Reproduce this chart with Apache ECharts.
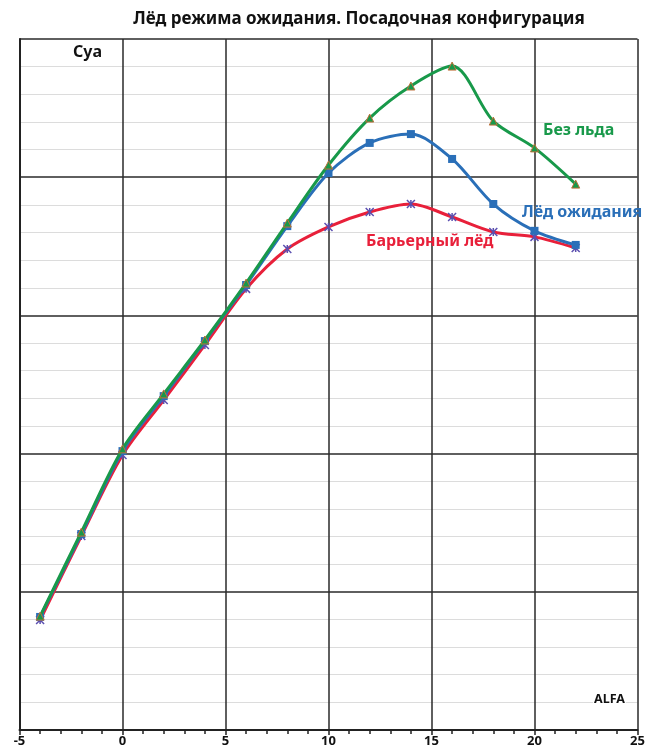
<!DOCTYPE html>
<html><head><meta charset="utf-8">
<script src="https://cdn.jsdelivr.net/npm/echarts@6/dist/echarts.min.js"></script>
<style>html,body{margin:0;padding:0;background:#fff}#c{width:653px;height:753px}</style>
</head><body><div id="c"></div>
<script>
const alpha = [-4,-2,0,2,4,6,8,10,12,14,16,18,20,22];
const noIce = [0.412,0.716,1.017,1.216,1.411,1.617,1.834,2.044,2.214,2.330,2.402,2.203,2.106,1.975];
const holdIce = [0.409,0.709,1.009,1.208,1.407,1.610,1.823,2.015,2.124,2.156,2.066,1.903,1.806,1.755];
const barrierIce = [0.398,0.702,0.995,1.194,1.393,1.596,1.740,1.820,1.874,1.903,1.856,1.802,1.784,1.744];
const xTicks = [-5,0,5,10,15,20,25];
const names = ['Без льда','Лёд ожидания','Барьерный лёд'];
const title = 'Лёд режима ожидания. Посадочная конфигурация';

const pair = (ys) => alpha.map((a,i)=>[a, ys[i]]);
const FONT = '"Noto Sans", sans-serif';
const chart = echarts.init(document.getElementById('c'));
chart.setOption({
  animation: false,
  backgroundColor: '#fff',
  title: {text: title, left: 354, top: 6, textAlign: 'center',
    textStyle: {fontFamily: FONT, fontWeight: 'bold', fontSize: 17, color: '#111'}},
  grid: {left: 19.5, right: 15.5, top: 39, bottom: 23},
  xAxis: {type: 'value', min: -5, max: 25, interval: 5,
    axisLine: {show: true, onZero: false, lineStyle: {color: '#222', width: 2}},
    axisTick: {show: true, length: 5, lineStyle: {color: '#222', width: 1.5}},
    minorTick: {show: true, splitNumber: 5, length: 4, lineStyle: {color: '#222', width: 1.5}},
    axisLabel: {fontFamily: FONT, fontWeight: 'bold', fontSize: 13, color: '#111', margin: 5,
      formatter: v => xTicks.includes(v) ? String(v) : ''},
    splitLine: {show: true, lineStyle: {color: '#2a2a2a', width: 1.5}}
  },
  yAxis: {type: 'value', min: 0, max: 2.5, interval: 0.5,
    axisLine: {show: true, onZero: false, lineStyle: {color: '#222', width: 2}},
    axisTick: {show: false},
    axisLabel: {show: false},
    splitLine: {show: true, lineStyle: {color: '#2a2a2a', width: 1.5}},
    minorSplitLine: {show: true, lineStyle: {color: '#dcdcdc', width: 1}},
    minorTick: {show: false, splitNumber: 5}
  },
  series: [
    {name: names[2], type: 'line', data: pair(barrierIce), smooth: 0.3, z: 3,
      lineStyle: {color: '#e8203a', width: 3},
      symbol: 'path://M0,0L10,10M10,0L0,10M5,0L5,10', symbolSize: 8,
      itemStyle: {color: 'none', borderColor: '#5b4fb0', borderWidth: 1.5}},
    {name: names[1], type: 'line', data: pair(holdIce), smooth: 0.3, z: 4,
      lineStyle: {color: '#2a6fb8', width: 3},
      symbol: 'rect', symbolSize: 8,
      itemStyle: {color: '#2a6fb8', borderWidth: 0}},
    {name: names[0], type: 'line', data: pair(noIce), smooth: 0.3, z: 5,
      lineStyle: {color: '#18994a', width: 3},
      symbol: 'triangle', symbolSize: 8,
      itemStyle: {color: '#18994a', borderColor: '#c0703a', borderWidth: 1}}
  ],
  graphic: [
    {type: 'text', left: 73, top: 44, z: 10, style: {text: 'Cya', font: 'bold 16px "Noto Sans", sans-serif', fill: '#111'}},
    {type: 'text', left: 593, top: 693, z: 10, style: {text: 'ALFA', font: 'bold 12.5px "Noto Sans", sans-serif', fill: '#111', backgroundColor: '#fff', padding: [0, 1]}},
    {type: 'text', left: 543, top: 122, z: 10, style: {text: names[0], font: 'bold 16px "Noto Sans", sans-serif', fill: '#18994a'}},
    {type: 'text', left: 522, top: 204, z: 10, style: {text: names[1], font: 'bold 16px "Noto Sans", sans-serif', fill: '#2a6fb8'}},
    {type: 'text', left: 366, top: 233, z: 10, style: {text: names[2], font: 'bold 16px "Noto Sans", sans-serif', fill: '#e8203a'}}
  ]
});
</script></body></html>
